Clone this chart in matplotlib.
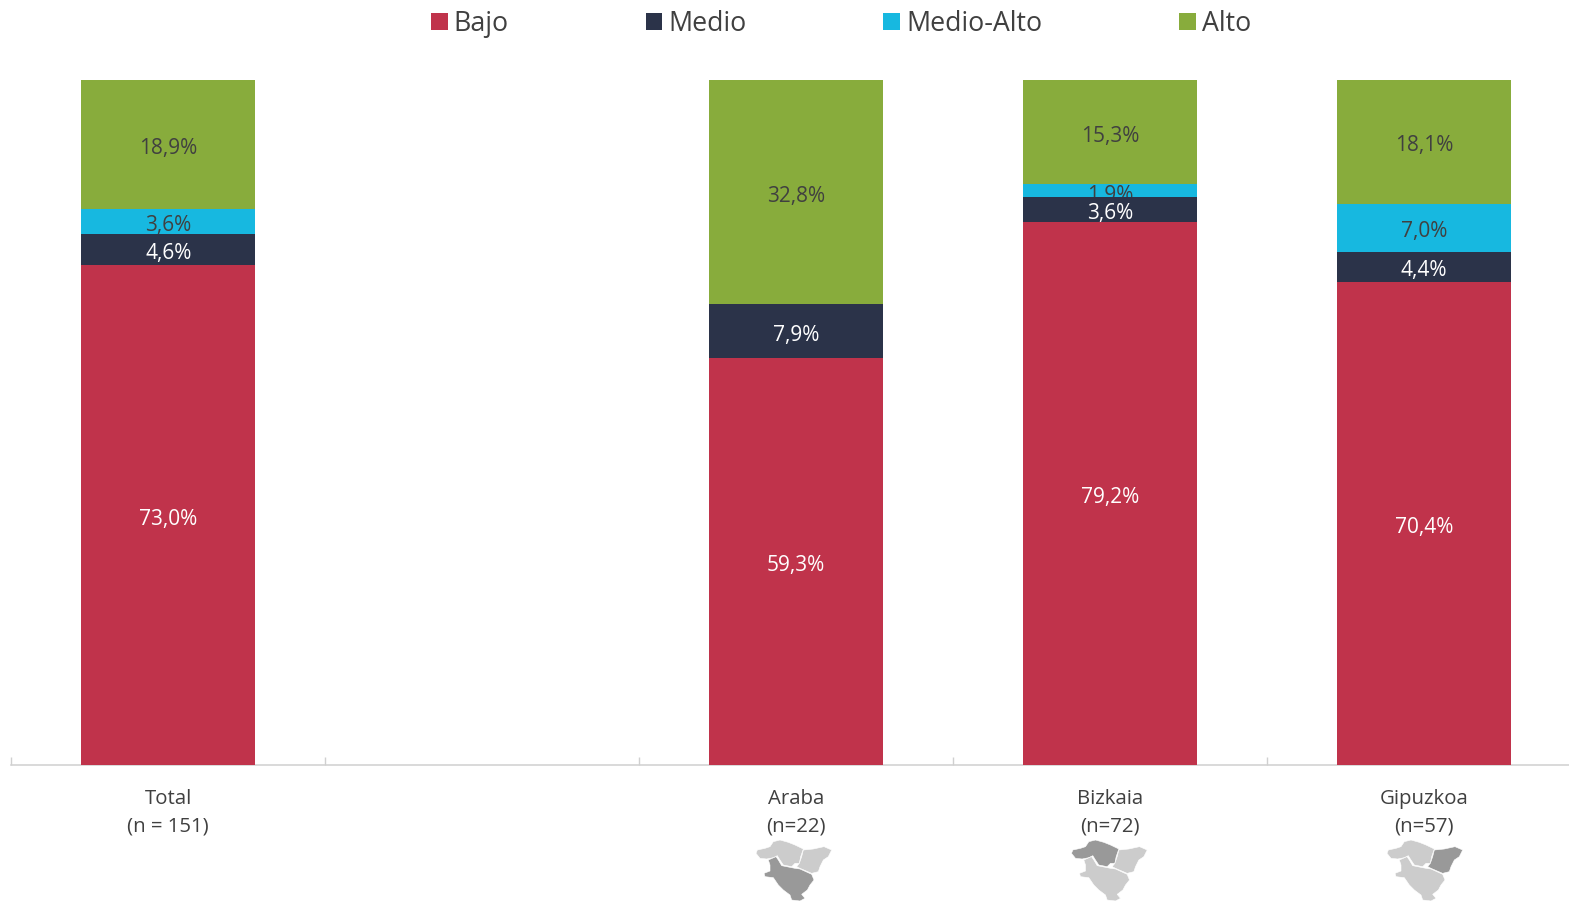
import numpy as np
import matplotlib
matplotlib.use("Agg")
import matplotlib.pyplot as plt
from matplotlib.patches import Polygon

plt.rcParams['font.family'] = ['Open Sans', 'DejaVu Sans']

categories = ["Total\n(n = 151)", "", "Araba\n(n=22)", "Bizkaia\n(n=72)", "Gipuzkoa\n(n=57)"]
bajo = [73.0, np.nan, 59.3, 79.2, 70.4]
medio = [4.6, np.nan, 7.9, 3.6, 4.4]
medio_alto = [3.6, np.nan, 0.0, 1.9, 7.0]
alto = [18.9, np.nan, 32.8, 15.3, 18.1]
series_names = ["Bajo", "Medio", "Medio-Alto", "Alto"]
colors = ["#C0334B", "#2B3349", "#17B8E0", "#88AC3C"]
label_colors = ["white", "white", "#404040", "#404040"]

W, H = 1569, 901
fig = plt.figure(figsize=(W / 100, H / 100), dpi=100, facecolor="white")
ax = fig.add_axes([11.2 / W, 1 - 765 / H, (W - 11.2) / W, (765 - 79.5) / H])

series = np.array([bajo, medio, medio_alto, alto], dtype=float)
totals = np.nansum(series, axis=0)
x = np.arange(len(categories))
bottom = np.zeros(len(categories))
handles = []
for i, (name, vals) in enumerate(zip(series_names, series)):
    share = np.nan_to_num(vals) / np.where(totals > 0, totals, 1) * 100
    z = 10 - 2 * i  # lower segments cover the labels of the ones above
    bars = ax.bar(x, share, 0.555, bottom=bottom, color=colors[i], label=name,
                  zorder=z, linewidth=0)
    handles.append(bars)
    for xi, s, b, v in zip(x, share, bottom, vals):
        if np.isnan(v) or v == 0:
            continue
        ann = ax.annotate(f"{v:.1f}%".replace(".", ","), (xi, b + s / 2), xytext=(0, -1.2),
                          textcoords="offset points", ha="center", va="center_baseline",
                          color=label_colors[i], fontsize=15, zorder=z + 1)
    bottom += share

ax.set_xlim(-0.5, -0.5 + (W - 11.2) / 314)
ax.set_ylim(0, 100)
ax.set_yticks([])
for s in ["top", "left", "right"]:
    ax.spines[s].set_visible(False)
ax.spines["bottom"].set_color("#D0D0D0")
ax.spines["bottom"].set_linewidth(1.1)
ax.set_xticks(x)
ax.set_xticklabels(categories, fontsize=14.7, color="#404040", linespacing=1.52)
ax.tick_params(axis="x", which="major", length=0, pad=17)
ax.set_xticks(np.arange(-0.5, 4.5, 1), minor=True)
ax.tick_params(axis="x", which="minor", direction="in", length=5.5, width=1.0, color="#D0D0D0")

fig.legend(handles=handles, loc="center", bbox_to_anchor=(841 / W, 1 - 24 / H), ncols=4,
           frameon=False, fontsize=19.3, labelcolor="#404040", handlelength=0.63,
           handleheight=0.63, handletextpad=0.22, columnspacing=5.1, borderpad=0)

# Region icons, drawn in pixel coordinates of the figure
overlay = fig.add_axes([0, 0, 1, 1], facecolor="none")
overlay.set_xlim(0, W)
overlay.set_ylim(H, 0)
overlay.axis("off")
bizkaia_shape = [(18, 55), (22, 45), (45, 40), (60, 35), (70, 20), (90, 15), (115, 22), (135, 30), (160, 42),
                 (152, 65), (148, 85), (135, 85), (125, 95), (100, 90), (88, 72), (82, 62), (70, 68), (50, 72),
                 (30, 70)]
gipuzkoa_shape = [(160, 45), (190, 42), (222, 35), (245, 45), (235, 65), (220, 75), (210, 95), (205, 110),
                  (185, 115), (150, 100), (140, 95), (148, 85), (155, 65)]
araba_shape = [(55, 75), (78, 65), (85, 75), (95, 92), (125, 98), (135, 100), (150, 102), (185, 118), (192, 135),
               (180, 150), (172, 165), (155, 178), (165, 190), (150, 198), (125, 195), (120, 180), (100, 165),
               (85, 150), (70, 128), (45, 125), (42, 115), (60, 108), (60, 90)]
shapes = [bizkaia_shape, gipuzkoa_shape, araba_shape]
highlights = [2, 0, 1]
for cat_idx, hl in zip([2, 3, 4], highlights):
    dx = 750 + (cat_idx - 2) * 315.5
    for k, pts in enumerate(shapes):
        p = [(dx + a / 3, 835 + b / 3) for a, b in pts]
        overlay.add_patch(Polygon(p, closed=True, facecolor="#999999" if k == hl else "#CCCCCC",
                                  edgecolor="white", linewidth=0.4))

fig.savefig("out.png", dpi=100, facecolor="white")
